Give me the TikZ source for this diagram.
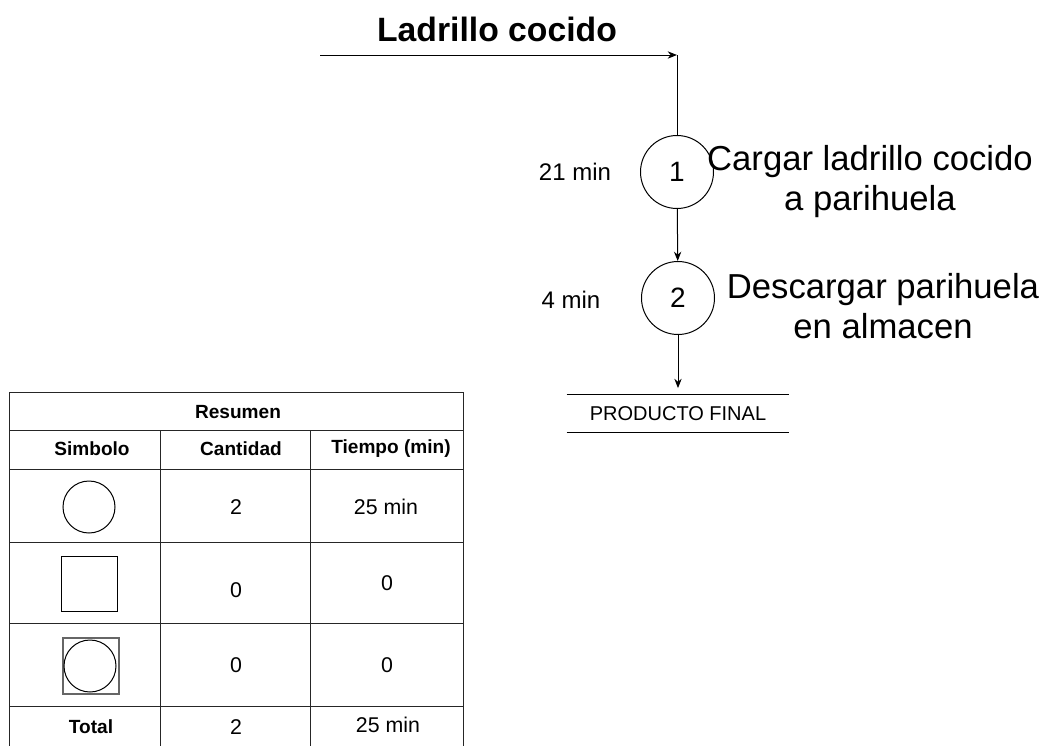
\documentclass[tikz,border=0pt]{standalone}
\usepackage{fontspec}
\setmainfont{Liberation Sans}
\usetikzlibrary{arrows.meta}

\tikzset{
  flow/.style={line width=0.75pt,-{Stealth[length=7pt,width=5.5pt]}},
  op/.style={draw,circle,line width=0.75pt,minimum size=54.75pt,inner sep=0pt,font=\fontsize{21}{25}\selectfont},
  bigtxt/.style={align=center,font=\fontsize{26}{30}\selectfont},
  timetxt/.style={font=\fontsize{18}{22}\selectfont},
  tbl/.style={draw=black!85,line width=0.75pt},
  headtxt/.style={font=\bfseries\fontsize{14.3}{17}\selectfont},
  celltxt/.style={font=\fontsize{16}{19}\selectfont}
}

\begin{document}
\begin{tikzpicture}[x=0.75pt,y=0.75pt,yscale=-1,xscale=1]
\useasboundingbox (0,0) rectangle (1039,746);

% Title
\node [font=\bfseries\fontsize{25.3}{30}\selectfont] (title) at (497,29) {Ladrillo cocido};

%Operations
\node [op] (o1) at (677,172) {1};
\node [op] (o2) at (678,298) {2};

% Text Node
\node [bigtxt] (d1) at (870,182) {Cargar ladrillo cocido\\a parihuela};
% Text Node
\node [bigtxt] (d2) at (883,306) {Descargar parihuela\\en almacen};
% Text Node
\node [timetxt] (t1) at (575,172) {21 min};
% Text Node
\node [timetxt] (t2) at (571,300) {4 min};

%Final product
\node [minimum width=166.5pt,minimum height=27.75pt,inner sep=0pt,font=\fontsize{15}{18}\selectfont] (fin) at (678,413.5) {PRODUCTO FINAL};
\draw [line width=0.75pt] (fin.north west) -- (fin.north east);
\draw [line width=0.75pt] (fin.south west) -- (fin.south east);

%Connectors
\coordinate (src) at (320,55);
\coordinate (bend) at (677,55);
\draw [flow] (src) -- (bend);
\draw [line width=0.75pt] (bend) -- (o1);
\draw [flow] (o1) -- (o2);
\draw [flow,shorten >=5pt] (o2) -- (fin.north);

%Table: Resumen
\draw [tbl] (9,746) -- (9,392) -- (463,392) -- (463,746);
\draw [tbl] (9,430) -- (463,430);
\draw [tbl] (9,469) -- (463,469);
\draw [tbl] (9,542) -- (463,542);
\draw [tbl] (9,623) -- (463,623);
\draw [tbl] (9,706) -- (463,706);
\draw [tbl] (160,430) -- (160,746);
\draw [tbl] (310,430) -- (310,746);

% Text Node
\node [headtxt] (res) at (238,412) {Resumen};
\node [headtxt] (hs) at (92,449) {Simbolo};
\node [headtxt] (hc) at (241,449) {Cantidad};
\node [headtxt] (ht) at (391,449) {Tiempo (min)};

%Symbols
\draw [line width=0.75pt] (89,507) circle [radius=26];
\draw [line width=0.75pt] (61,556) rectangle (117,611);
\draw [draw=black!60,line width=1.5pt] (63,638) rectangle (119,694);
\draw [line width=0.75pt] (90,666) circle [radius=26];

% Text Node
\node [celltxt] (c1) at (236,507) {2};
\node [celltxt] (m1) at (386,507) {25 min};
\node [celltxt] (c2) at (236,590) {0};
\node [celltxt] (m2) at (387,583) {0};
\node [celltxt] (c3) at (236,665) {0};
\node [celltxt] (m3) at (387,665) {0};
\node [headtxt] (tot) at (91,727) {Total};
\node [celltxt] (c4) at (236,727) {2};
\node [celltxt] (m4) at (388,725) {25 min};

\end{tikzpicture}
\end{document}
